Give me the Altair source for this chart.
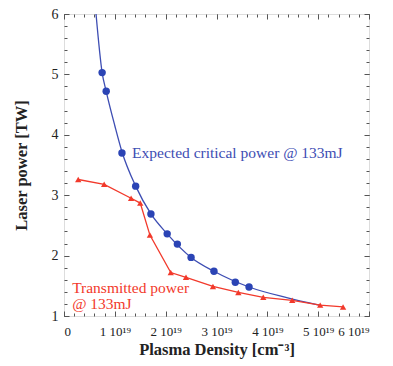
import altair as alt
import pandas as pd

# Expected critical power (measured points)
crit_x = [0.75, 0.83, 1.14, 1.41, 1.71, 2.03, 2.23, 2.50, 2.95, 3.37, 3.64]
crit_y = [5.03, 4.72, 3.70, 3.15, 2.69, 2.36, 2.19, 1.97, 1.74, 1.56, 1.48]

# Smooth fitted curve
fit_x = [0.63, 0.75, 0.83, 1.00, 1.14, 1.41, 1.71, 2.03, 2.50, 2.95, 3.64, 4.40, 5.02]
fit_y = [6.00, 5.03, 4.72, 4.15, 3.72, 3.15, 2.69, 2.36, 1.97, 1.74, 1.48, 1.30, 1.18]

# Transmitted power
trans_x = [0.28, 0.79, 1.32, 1.50, 1.69, 2.10, 2.40, 2.93, 3.43, 3.92, 4.49, 5.04, 5.49]
trans_y = [3.26, 3.18, 2.95, 2.87, 2.34, 1.72, 1.64, 1.49, 1.39, 1.31, 1.26, 1.18, 1.15]

x_major = [0, 1, 2, 3, 4, 5, 6]
y_major = [1, 2, 3, 4, 5, 6]
x_minor = [round(i * 0.2, 1) for i in range(31)]
y_minor = [round(1 + i * 0.2, 1) for i in range(26)]

BLUE = "#3d4db3"
RED = "#f2392b"
AXC = "#555555"
FONT = "Liberation Serif"

fit = pd.DataFrame({"x": fit_x, "y": fit_y})
crit = pd.DataFrame({"x": crit_x, "y": crit_y})
trans = pd.DataFrame({"x": trans_x, "y": trans_y})

xs = alt.Scale(domain=[0, 6], nice=False, zero=False)
ys = alt.Scale(domain=[1, 6], nice=False, zero=False)

def ax(orient, values, size, labels=False, title=None, lexpr=None, pad=0, tpad=0, lsize=14):
    kw = dict(orient=orient, values=values, tickSize=size, offset=-size,
              domain=False, grid=False, labels=labels, tickColor=AXC,
              tickWidth=1, labelFont=FONT, labelFontSize=lsize, labelColor="#222",
              labelPadding=pad, titleFont=FONT, titleFontSize=16.5,
              titleFontWeight="bold", titleColor="#222", titlePadding=tpad)
    kw["title"] = title if title is not None else None
    if lexpr is not None:
        kw["labelExpr"] = lexpr
    return alt.Axis(**kw)

xlab = "datum.value == 0 ? '0' : datum.value + ' 10¹⁹'"

fit_line = alt.Chart(fit).mark_line(color=BLUE, strokeWidth=1.3, interpolate="monotone", clip=True).encode(
    x=alt.X("x:Q", scale=xs, axis=ax("bottom", x_major, 5, True, "Plasma Density [cm⁻³]", xlab, 9, 3, 13)),
    y=alt.Y("y:Q", scale=ys, axis=ax("left", y_major, 5, True, "Laser power [TW]", None, 6, 22, 14)),
)

def ghost(xa, ya):
    return alt.Chart(fit).mark_point(opacity=0).encode(
        x=alt.X("x:Q", scale=xs, axis=xa),
        y=alt.Y("y:Q", scale=ys, axis=ya),
    )

g1 = ghost(ax("top", x_major, 5), ax("right", y_major, 5))
g2 = ghost(ax("bottom", x_minor, 3), ax("left", y_minor, 3))
g3 = ghost(ax("top", x_minor, 3), ax("right", y_minor, 3))

crit_pts = alt.Chart(crit).mark_point(shape="circle", filled=True, color="#2b44b5", size=55, opacity=1).encode(
    x=alt.X("x:Q", scale=xs, axis=None), y=alt.Y("y:Q", scale=ys, axis=None))

trans_line = alt.Chart(trans).mark_line(color=RED, strokeWidth=1.3).encode(
    x=alt.X("x:Q", scale=xs, axis=None), y=alt.Y("y:Q", scale=ys, axis=None))
trans_pts = alt.Chart(trans).mark_point(shape="triangle-up", filled=True, color=RED, size=40, opacity=1).encode(
    x=alt.X("x:Q", scale=xs, axis=None), y=alt.Y("y:Q", scale=ys, axis=None))

labels = pd.DataFrame({
    "x": [1.34, 0.16, 0.16],
    "y": [3.70, 1.46, 1.20],
    "t": ["Expected critical power @ 133mJ", "Transmitted power", "@ 133mJ"],
    "c": [BLUE, RED, RED],
})
txt = alt.Chart(labels).mark_text(align="left", baseline="middle", font=FONT, fontSize=15.5).encode(
    x=alt.X("x:Q", scale=xs, axis=None), y=alt.Y("y:Q", scale=ys, axis=None),
    text="t:N", color=alt.Color("c:N", scale=None))

chart = alt.layer(g1, g2, g3, fit_line, trans_line, crit_pts, trans_pts, txt).resolve_axis(
    x="independent", y="independent"
).properties(
    width=305, height=302,
    autosize=alt.AutoSizeParams(type="none"),
    padding={"left": 56, "top": 6, "right": 16, "bottom": 50},
).configure_view(stroke=AXC, strokeWidth=1.2).configure(background="white")

chart.save("out.html", embed_options={"renderer": "svg", "actions": False})
